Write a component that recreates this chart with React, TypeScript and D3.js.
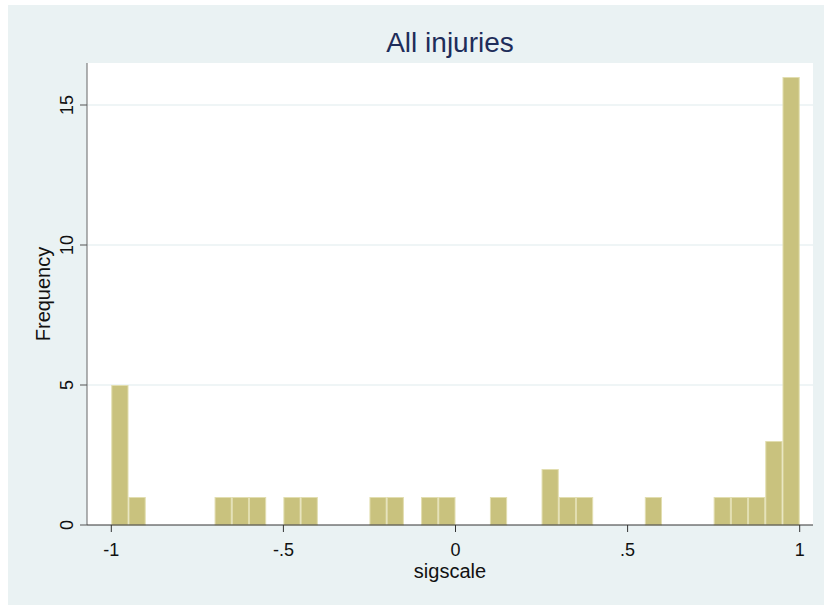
import React from "react";
import * as d3 from "d3";

const title = "All injuries";
const xLabel = "sigscale";
const yLabel = "Frequency";
const binStart = -1;
const binWidth = 0.05;
const counts = [
  5, 1, 0, 0, 0, 0, 1, 1, 1, 0,
  1, 1, 0, 0, 0, 1, 1, 0, 1, 1,
  0, 0, 1, 0, 0, 2, 1, 1, 0, 0,
  0, 1, 0, 0, 0, 1, 1, 1, 3, 16,
];
const xTicks = [-1, -0.5, 0, 0.5, 1];
const xTickLabels = ["-1", "-.5", "0", ".5", "1"];
const yTicks = [0, 5, 10, 15];
const yGrid = [5, 10, 15];

export default function App() {
  const W = 824;
  const H = 605;
  const left = 87;
  const right = 813;
  const top = 63;
  const bottom = 525;
  const x = d3.scaleLinear().domain([-1, 1]).range([111.3, 799.7]);
  const y = d3.scaleLinear().domain([0, 5]).range([bottom, 385]);
  const font = "'Liberation Sans', Arial, sans-serif";
  const bars = counts.map((c, i) => ({
    x0: binStart + i * binWidth,
    x1: binStart + (i + 1) * binWidth,
    c,
  }));
  return (
    <svg
      width={W}
      height={H}
      style={{ position: "fixed", left: 0, top: 0, display: "block" }}
      fontFamily={font}
    >
      <rect x={8} y={5} width={W - 8} height={H - 5} fill="#eaf2f3" />
      <rect x={left} y={top} width={right - left} height={bottom - top} fill="#ffffff" />
      {yGrid.map((v) => (
        <line key={v} x1={left} x2={right} y1={y(v)} y2={y(v)} stroke="#eaf2f3" strokeWidth={1.5} />
      ))}
      {bars
        .filter((b) => b.c > 0)
        .map((b, i) => (
          <rect
            key={i}
            x={x(b.x0) + 0.5}
            y={y(b.c) + 0.5}
            width={x(b.x1) - x(b.x0) - 1}
            height={y(0) - y(b.c) - 0.5}
            fill="#c9c27e"
            stroke="#e2deb0"
            strokeWidth={1}
          />
        ))}
      <line x1={left} x2={left} y1={top} y2={bottom} stroke="#666" strokeWidth={1} />
      <line x1={left} x2={right} y1={bottom} y2={bottom} stroke="#333" strokeWidth={1} />
      {yTicks.map((v) => (
        <g key={v}>
          <line x1={left - 7} x2={left} y1={y(v)} y2={y(v)} stroke="#555" strokeWidth={1} />
          <text
            transform={`translate(73,${y(v)}) rotate(-90)`}
            textAnchor="middle"
            fontSize={18}
            fill="#111"
          >
            {v}
          </text>
        </g>
      ))}
      {xTicks.map((v, i) => (
        <g key={v}>
          <line x1={x(v)} x2={x(v)} y1={bottom} y2={bottom + 7} stroke="#333" strokeWidth={1} />
          <text x={x(v)} y={556} textAnchor="middle" fontSize={18} fill="#111">
            {xTickLabels[i]}
          </text>
        </g>
      ))}
      <text x={(left + right) / 2} y={578} textAnchor="middle" fontSize={20} fill="#111">
        {xLabel}
      </text>
      <text
        transform={`translate(50,${(top + bottom) / 2}) rotate(-90)`}
        textAnchor="middle"
        fontSize={20}
        fill="#111"
      >
        {yLabel}
      </text>
      <text x={(left + right) / 2} y={52} textAnchor="middle" fontSize={28} fill="#1e2d5a">
        {title}
      </text>
    </svg>
  );
}
